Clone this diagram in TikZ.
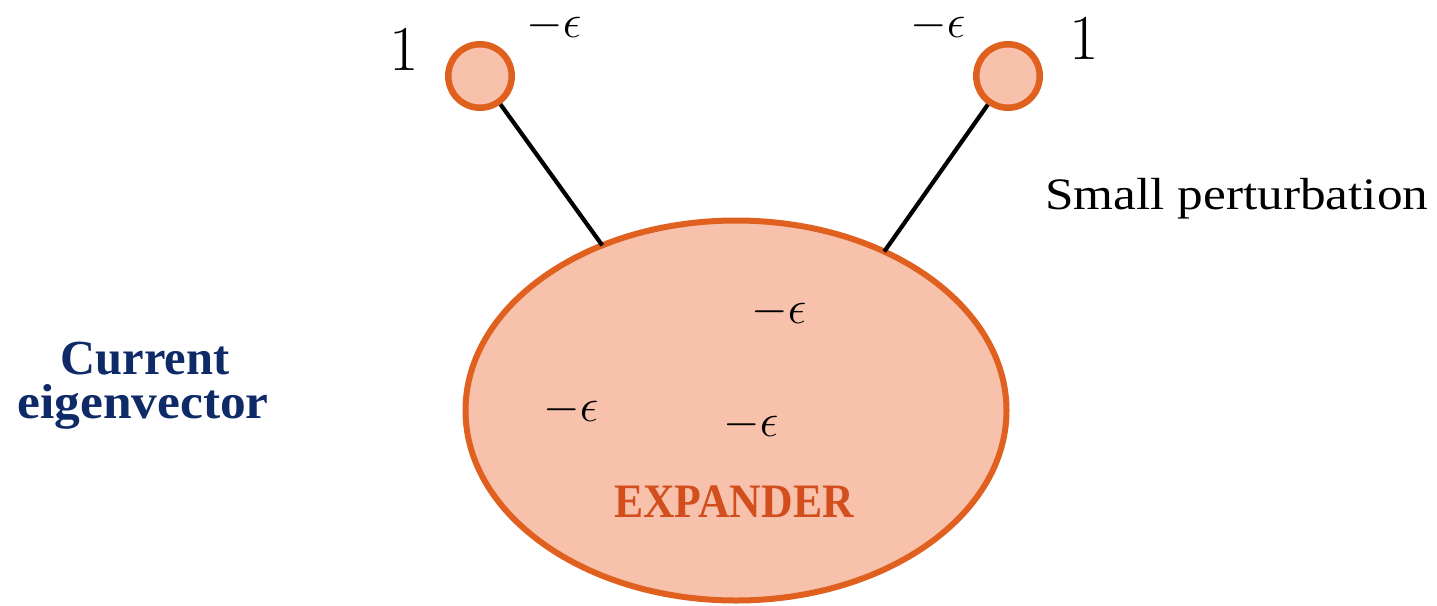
\RequirePackage{fix-cm}
\documentclass[tikz,border=0pt]{standalone}
\usepackage{fontspec}
\setmainfont{Liberation Serif}
\usepackage{graphicx}
\usetikzlibrary{shapes.geometric}
\definecolor{ringorange}{HTML}{E0601F}
\definecolor{fillpeach}{HTML}{F7C1AB}
\definecolor{textorange}{HTML}{D24E1C}
\definecolor{navyblue}{HTML}{0E2B68}
\tikzset{
  vertex/.style={circle, draw=ringorange, fill=fillpeach, line width=6.5pt, minimum size=63.5pt, inner sep=0pt},
  bigset/.style={ellipse, draw=ringorange, fill=fillpeach, line width=6pt, minimum width=541pt, minimum height=380pt, inner sep=0pt, outer sep=0pt},
  edge/.style={draw=black, line width=4.2pt},
  epslabel/.style={anchor=base west, inner sep=0pt, font=\fontsize{47}{47}\selectfont},
  onelabel/.style={anchor=base, inner sep=0pt, font=\fontsize{64}{64}\selectfont},
  sidetext/.style={inner sep=0pt, font=\fontsize{45}{45}\selectfont},
  bluetext/.style={anchor=base, inner sep=0pt, text=navyblue, font=\fontsize{49}{49}\selectfont\bfseries},
  settext/.style={anchor=base, inner sep=0pt, text=textorange, font=\fontsize{48}{48}\selectfont\bfseries}
}
\begin{document}
\begin{tikzpicture}[x=1pt,y=-1pt]
\useasboundingbox (0,0) rectangle (1437,605);
\node[bigset] (E) at (736,410.5) {};
\node[vertex] (L) at (480,76) {};
\node[vertex] (R) at (1008,76) {};
\draw[edge] (L) -- (E.129.5);
\draw[edge] (R) -- (E.47.7);
\node[onelabel] (oneL) at (404.5,70) {$1$};
\node[onelabel] (oneR) at (1084.5,59) {$1$};
\node[epslabel] (epsL) at (526,37) {$-\epsilon$};
\node[epslabel] (epsR) at (910,37) {$-\epsilon$};
\node[epslabel] (eps1) at (751,323) {$-\epsilon$};
\node[epslabel] (eps2) at (543,421) {$-\epsilon$};
\node[epslabel] (eps3) at (723,436) {$-\epsilon$};
\node[settext] (exp) at (734,517) {\scalebox{0.91}[1]{EXPANDER}};
\node[bluetext] (cur) at (145,374) {\scalebox{0.99}[1]{Current}};
\node[bluetext] (eig) at (143,418) {\scalebox{1.05}[1]{eigenvector}};
\node[sidetext, anchor=base west] (pert) at (1045,209) {\scalebox{1.14}[1]{Small perturbation}};
\end{tikzpicture}
\end{document}
